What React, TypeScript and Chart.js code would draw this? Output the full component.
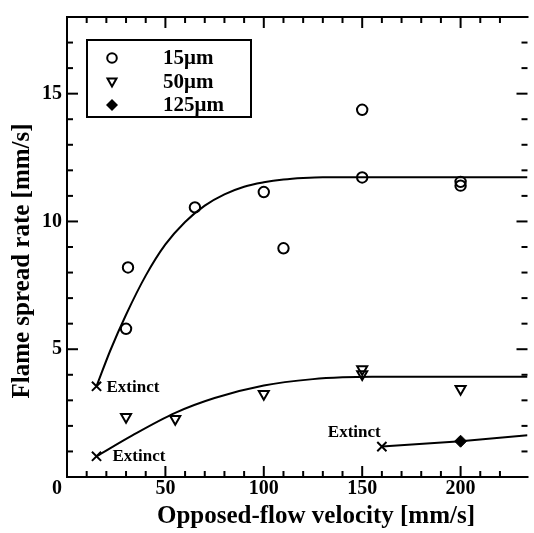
import React, { useEffect, useRef } from "react";
import { Chart, registerables } from "chart.js";

Chart.register(...registerables);

// ---- data ----
const circles15X = [30, 31, 65, 100, 110, 150, 150, 200, 200];
const circles15Y = [5.8, 8.2, 10.55, 11.15, 8.95, 14.37, 11.72, 11.55, 11.4];
const tri50X = [30, 55, 100, 150, 150, 200];
const tri50Y = [2.35, 2.27, 3.25, 4.22, 4.02, 3.45];
const dia125X = [200];
const dia125Y = [1.4];
const extinctX = [15, 15, 160];
const extinctY = [3.55, 0.81, 1.19];
const fit15X = [15, 22, 30, 40, 50, 60, 70, 80, 90, 100, 110, 120, 130, 234];
const fit15Y = [3.55, 4.95, 6.35, 7.88, 9.1, 9.98, 10.62, 11.06, 11.36, 11.53, 11.64, 11.7, 11.73, 11.73];
const fit50X = [15, 33, 55, 75, 100, 125, 140, 155, 234];
const fit50Y = [0.81, 1.62, 2.51, 3.09, 3.58, 3.83, 3.9, 3.92, 3.92];
const fit125X = [160, 200, 234];
const fit125Y = [1.19, 1.4, 1.63];

const legendLabels = ["15\u03bcm", "50\u03bcm", "125\u03bcm"];
const extinctLabel = "Extinct";
const xTitle = "Opposed-flow velocity [mm/s]";
const yTitle = "Flame spread rate [mm/s]";
const X_MIN = 0;
const X_MAX = 234;
const Y_MIN = 0;
const Y_MAX = 18;

const FONT = '"Liberation Serif", "Times New Roman", serif';

const zip = (xs: number[], ys: number[]) => xs.map((x, i) => ({ x, y: ys[i] }));

const decorPlugin = {
  id: "decor",
  afterDraw(chart: any) {
    const { ctx, chartArea: a, scales } = chart;
    const x = scales.x;
    const y = scales.y;
    ctx.save();
    ctx.strokeStyle = "#000";
    ctx.fillStyle = "#000";
    ctx.lineWidth = 2;
    ctx.lineCap = "butt";
    const seg = (x1: number, y1: number, x2: number, y2: number) => {
      ctx.beginPath();
      ctx.moveTo(x1, y1);
      ctx.lineTo(x2, y2);
      ctx.stroke();
    };
    // frame: left, bottom, top (right edge lies outside the picture)
    ctx.beginPath();
    ctx.moveTo(a.right + 1, a.top);
    ctx.lineTo(a.left, a.top);
    ctx.lineTo(a.left, a.bottom);
    ctx.lineTo(a.right + 1, a.bottom);
    ctx.stroke();
    // inward ticks
    for (const t of x.ticks) {
      const v = t.value;
      if (Math.abs(v % 10) > 1e-6) continue;
      const px = x.getPixelForValue(v);
      const len = Math.abs(v % 50) < 1e-6 ? 11 : 6;
      seg(px, a.bottom, px, a.bottom - len);
      seg(px, a.top, px, a.top + len);
    }
    for (const t of y.ticks) {
      const v = t.value;
      if (Math.abs(v % 1) > 1e-6) continue;
      const py = y.getPixelForValue(v);
      const len = Math.abs(v % 5) < 1e-6 ? 11 : 6;
      seg(a.left, py, a.left + len, py);
      seg(a.right, py, a.right - len, py);
    }

    // "0" corner label
    ctx.font = `bold 20px ${FONT}`;
    ctx.textAlign = "center";
    ctx.textBaseline = "middle";
    ctx.fillText("0", a.left - 10, a.bottom + 12);

    // axis titles
    ctx.font = `bold 25px ${FONT}`;
    ctx.textAlign = "center";
    ctx.textBaseline = "alphabetic";
    ctx.fillText(xTitle, 316, 523);
    ctx.save();
    ctx.translate(23, 261);
    ctx.rotate(-Math.PI / 2);
    ctx.textBaseline = "middle";
    ctx.fillText(yTitle, 0, 0);
    ctx.restore();

    // Extinct labels
    ctx.font = `bold 17px ${FONT}`;
    ctx.textAlign = "left";
    ctx.textBaseline = "middle";
    const ex = extinctX.map((v) => x.getPixelForValue(v));
    const ey = extinctY.map((v) => y.getPixelForValue(v));
    ctx.fillText(extinctLabel, ex[0] + 10, ey[0] + 1);
    ctx.fillText(extinctLabel, ex[1] + 16, ey[1]);
    ctx.fillText(extinctLabel, ex[2] - 54, ey[2] - 14);

    // legend
    const bx = 87, by = 40, bw = 164, bh = 77;
    ctx.lineWidth = 2;
    ctx.strokeRect(bx, by, bw, bh);
    const rows = [58, 82, 105];
    const mx = 112;
    ctx.lineWidth = 2;
    // circle
    ctx.beginPath();
    ctx.arc(mx, rows[0], 4.8, 0, Math.PI * 2);
    ctx.stroke();
    // down triangle
    ctx.beginPath();
    ctx.moveTo(mx - 4.5, rows[1] - 3.5);
    ctx.lineTo(mx + 4.5, rows[1] - 3.5);
    ctx.lineTo(mx, rows[1] + 4.5);
    ctx.closePath();
    ctx.stroke();
    // diamond
    ctx.beginPath();
    ctx.moveTo(mx, rows[2] - 6);
    ctx.lineTo(mx + 6, rows[2]);
    ctx.lineTo(mx, rows[2] + 6);
    ctx.lineTo(mx - 6, rows[2]);
    ctx.closePath();
    ctx.fill();
    ctx.font = `bold 21px ${FONT}`;
    ctx.textAlign = "left";
    ctx.textBaseline = "middle";
    legendLabels.forEach((l, i) => ctx.fillText(l, 163, rows[i] + 1));
    ctx.restore();
  },
};

export default function App() {
  const ref = useRef<HTMLCanvasElement | null>(null);
  useEffect(() => {
    document.body.style.margin = "0";
    if (!ref.current) return;
    Chart.defaults.font.family = FONT;
    const chart = new Chart(ref.current, {
      type: "scatter",
      data: {
        datasets: [
          {
            label: "15um",
            data: zip(circles15X, circles15Y),
            pointStyle: "circle",
            pointRadius: 5.2,
            borderWidth: 2,
            borderColor: "#000",
            backgroundColor: "rgba(0,0,0,0)",
          },
          {
            label: "50um",
            data: zip(tri50X, tri50Y),
            pointStyle: "triangle",
            rotation: 180,
            pointRadius: 5.8,
            borderWidth: 2,
            borderColor: "#000",
            backgroundColor: "rgba(0,0,0,0)",
          },
          {
            label: "125um",
            data: zip(dia125X, dia125Y),
            pointStyle: "rectRot",
            pointRadius: 6,
            borderWidth: 1,
            borderColor: "#000",
            backgroundColor: "#000",
          },
          {
            label: "extinct",
            data: zip(extinctX, extinctY),
            pointStyle: "crossRot",
            pointRadius: 6.5,
            borderWidth: 2,
            borderColor: "#000",
            backgroundColor: "#000",
          },
          {
            label: "fit15",
            data: zip(fit15X, fit15Y),
            showLine: true,
            pointRadius: 0,
            borderWidth: 2,
            borderColor: "#000",
            cubicInterpolationMode: "monotone",
          },
          {
            label: "fit50",
            data: zip(fit50X, fit50Y),
            showLine: true,
            pointRadius: 0,
            borderWidth: 2,
            borderColor: "#000",
            cubicInterpolationMode: "monotone",
          },
          {
            label: "fit125",
            data: zip(fit125X, fit125Y),
            showLine: true,
            pointRadius: 0,
            borderWidth: 2,
            borderColor: "#000",
          },
        ],
      } as any,
      options: {
        animation: false,
        responsive: false,
        maintainAspectRatio: false,
        layout: { padding: { left: 0, top: 9, right: 1, bottom: 0 } },
        plugins: { legend: { display: false }, tooltip: { enabled: false } },
        scales: {
          x: {
            type: "linear",
            min: X_MIN,
            max: X_MAX,
            grid: { display: false, drawTicks: false },
            border: { display: false },
            ticks: {
              stepSize: 10,
              padding: 0,
              autoSkip: false,
              maxRotation: 0,
              color: "#000",
              font: { size: 20, weight: "bold", family: FONT },
              callback: (v: any) => (v % 50 === 0 && v !== 0 ? String(v) : ""),
            },
            afterFit: (s: any) => {
              s.height = 56;
            },
          },
          y: {
            type: "linear",
            min: Y_MIN,
            max: Y_MAX,
            grid: { display: false, drawTicks: false },
            border: { display: false },
            ticks: {
              stepSize: 1,
              padding: 5,
              autoSkip: false,
              color: "#000",
              font: { size: 20, weight: "bold", family: FONT },
              callback: (v: any) => (v % 5 === 0 && v !== 0 ? String(v) : ""),
            },
            afterFit: (s: any) => {
              s.width = 67;
            },
          },
        },
      } as any,
      plugins: [decorPlugin],
    });
    return () => chart.destroy();
  }, []);
  return (
    <div style={{ width: 534, height: 533, overflow: "hidden", background: "#fff" }}>
      <canvas
        ref={ref}
        width={536}
        height={533}
        style={{ display: "block", width: 536, height: 533 }}
      />
    </div>
  );
}
